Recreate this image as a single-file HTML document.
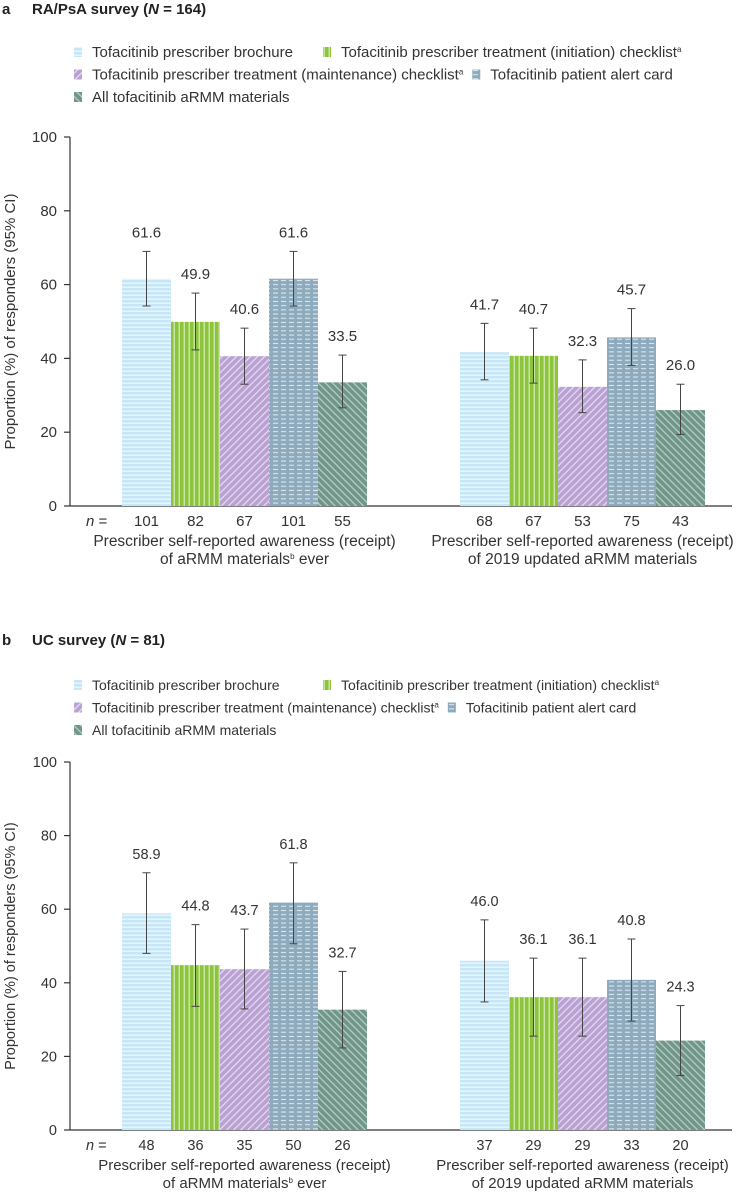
<!DOCTYPE html>
<html><head><meta charset="utf-8"><style>
html,body{margin:0;padding:0;background:#fff;}
svg{display:block;font-family:"Liberation Sans",sans-serif;}
</style></head><body>
<svg id="chart" width="750" height="1196" viewBox="0 0 750 1196" xmlns="http://www.w3.org/2000/svg">
<defs>
<pattern id="p0" width="6" height="4" patternUnits="userSpaceOnUse"><rect width="6" height="4" fill="#c7e7f8"/><rect y="2.6" width="6" height="1.2" fill="#eef8fd"/></pattern>
<pattern id="p1" width="5" height="6" patternUnits="userSpaceOnUse"><rect width="5" height="6" fill="#8cc43c"/><rect x="3.6" width="1.2" height="6" fill="#d8edbd"/></pattern>
<pattern id="p2" width="5" height="5" patternUnits="userSpaceOnUse" patternTransform="rotate(45)"><rect width="5" height="5" fill="#b9a1d3"/><rect x="3.7" width="1.1" height="5" fill="#ece3f3"/></pattern>
<pattern id="p3" width="8" height="4.2" patternUnits="userSpaceOnUse"><rect width="8" height="4.2" fill="#8eaabd"/><rect x="1" y="2.7" width="5" height="1.1" fill="#dde6ee"/></pattern>
<pattern id="p4" width="5" height="5" patternUnits="userSpaceOnUse" patternTransform="rotate(-45)"><rect width="5" height="5" fill="#6f9689"/><rect x="3.7" width="1.1" height="5" fill="#c4d5cf"/></pattern>
</defs>
</svg>
<script>
const seriesNames = ["Tofacitinib prescriber brochure","Tofacitinib prescriber treatment (initiation) checklist","Tofacitinib prescriber treatment (maintenance) checklist","Tofacitinib patient alert card","All tofacitinib aRMM materials"];
const groupLabels = [["Prescriber self-reported awareness (receipt)","of aRMM materials","b"," ever"],["Prescriber self-reported awareness (receipt)","of 2019 updated aRMM materials","",""]];
const yTicks = [0,20,40,60,80,100];
// Panel a
const aValues = [[61.6,49.9,40.6,61.6,33.5],[41.7,40.7,32.3,45.7,26.0]];
const aLow = [[54.2,42.3,33.0,54.2,26.6],[34.2,33.3,25.3,38.1,19.4]];
const aHigh = [[69.0,57.7,48.2,69.0,40.9],[49.5,48.2,39.6,53.5,33.0]];
const aN = [[101,82,67,101,55],[68,67,53,75,43]];
// Panel b
const bValues = [[58.9,44.8,43.7,61.8,32.7],[46.0,36.1,36.1,40.8,24.3]];
const bLow = [[48.0,33.6,32.9,50.6,22.3],[34.8,25.5,25.5,29.6,14.8]];
const bHigh = [[69.9,55.8,54.6,72.6,43.1],[57.1,46.7,46.7,51.9,33.8]];
const bN = [[48,36,35,50,26],[37,29,29,33,20]];

const svg = document.getElementById('chart');
const NS = "http://www.w3.org/2000/svg";
function el(tag, attrs, parent, text){
  const e = document.createElementNS(NS, tag);
  for (const k in attrs) e.setAttribute(k, attrs[k]);
  if (text !== undefined) e.textContent = text;
  (parent||svg).appendChild(e);
  return e;
}
const groupStarts = [122, 460];
const barW = 49;

function panel(opt){
  const g = el('g', {}, svg);
  
  
  const fs = opt.fs;
  const t = el('text', {x:2, y:opt.titleY, 'font-size':15, 'font-weight':'bold', fill:'#222'}, g);
  
  
  el('tspan', {}, t, opt.letter);
  el('tspan', {x:32}, t, opt.title + ' (');
  el('tspan', {'font-style':'italic'}, t, 'N');
  el('tspan', {}, t, ' = ' + opt.N + ')');
  // legend
  const rowOf = [0,0,1,1,2];
  let nextX = {0:77,1:77,2:77};
  seriesNames.forEach((s,i)=>{
    const row = rowOf[i];
    let lx = nextX[row];
    if (i===1) lx = 326;
    const ly = opt.legY + row*22.5;
    const lg = el('g', {}, g);
    
    
    el('rect', {x:lx-3, y:ly-10, width:8, height:10, fill:'url(#p'+i+')'}, lg);
    const tx = el('text', {x:lx+15, y:ly, 'font-size':opt.lfs, fill:'#333'}, lg, s);
    if (i===1 || i===2) el('tspan', {'font-size':8, dy:-5}, tx, 'a');
    let w = 0;
    try { w = tx.getComputedTextLength(); } catch(e) { w = s.length*7; }
    nextX[row] = lx + 15 + w + 12;
  });
  const y0 = opt.y0, y100 = opt.y100;
  const ys = v => y0 - (y0 - y100) * v / 100;
  const ax = el('g', {}, g);
  
  
  el('line', {x1:70, y1:y0, x2:70, y2:y100, stroke:'#333', 'stroke-width':1.2}, ax);
  yTicks.forEach(v=>{
    el('line', {x1:64, y1:ys(v), x2:70, y2:ys(v), stroke:'#333', 'stroke-width':1.2}, ax);
    el('text', {x:57, y:ys(v)+5, 'font-size':fs, 'text-anchor':'end', fill:'#333'}, ax, v);
  });
  const yt = el('text', {x:0, y:0, 'font-size':fs, 'text-anchor':'middle', fill:'#333', transform:`translate(15,${(y0+y100)/2}) rotate(-90)`}, g, 'Proportion (%) of responders (95% CI)');
  
  
  const xl = el('line', {x1:70, y1:y0, x2:732, y2:y0, stroke:'#333', 'stroke-width':1.2}, g);
  
  
  const nl = el('text', {x:86, y:y0+20, 'font-size':fs, fill:'#333'}, g);
  
  
  el('tspan', {'font-style':'italic'}, nl, 'n');
  el('tspan', {}, nl, ' =');
  opt.values.forEach((grp, gi)=>{
    grp.forEach((v, si)=>{
      const x = groupStarts[gi] + si*barW;
      const b = el('rect', {x:x, y:ys(v), width:barW, height:y0-ys(v), fill:'url(#p'+si+')'}, g);
      
      
      const cx = x + barW/2;
      const eb = el('g', {stroke:'#444', 'stroke-width':1}, g);
      
      
      const yl = ys(opt.low[gi][si]), yh = ys(opt.high[gi][si]);
      el('line', {x1:cx, y1:yl, x2:cx, y2:yh}, eb);
      el('line', {x1:cx-4, y1:yl, x2:cx+4, y2:yl}, eb);
      el('line', {x1:cx-4, y1:yh, x2:cx+4, y2:yh}, eb);
      const vl = el('text', {x:cx, y:yh-14, 'font-size':fs, 'text-anchor':'middle', fill:'#333'}, g, v.toFixed(1));
      
      
      const nt = el('text', {x:cx, y:y0+20, 'font-size':fs, 'text-anchor':'middle', fill:'#333'}, g, opt.n[gi][si]);
      
      
    });
    const gx = groupStarts[gi] + barW*2.5;
    const gl = el('text', {x:gx, y:y0+40, 'font-size':opt.gfs, 'text-anchor':'middle', fill:'#333'}, g);
    
    
    el('tspan', {x:gx}, gl, groupLabels[gi][0]);
    el('tspan', {x:gx, dy:18}, gl, groupLabels[gi][1]);
    if (groupLabels[gi][2]) {
      el('tspan', {'font-size':8, dy:-5}, gl, groupLabels[gi][2]);
      el('tspan', {dy:5}, gl, groupLabels[gi][3]);
    }
  });
}
panel({name:'panel-a', letter:'a', title:'RA/PsA survey', N:164, titleY:14, legY:57, y0:506, y100:137, fs:15, lfs:15, gfs:15.5, values:aValues, low:aLow, high:aHigh, n:aN});
panel({name:'panel-b', letter:'b', title:'UC survey', N:81, titleY:645, legY:690, y0:1130, y100:762, fs:14.5, lfs:14, gfs:15, values:bValues, low:bLow, high:bHigh, n:bN});
</script>
</body></html>
